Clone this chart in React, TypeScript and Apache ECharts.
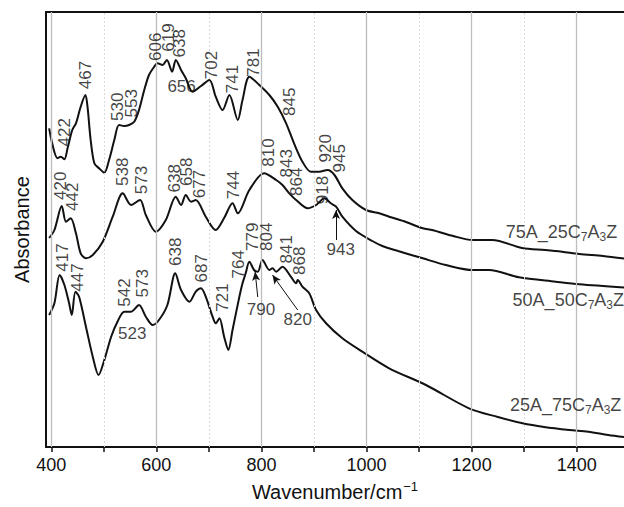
import React, { useEffect, useRef } from "react";
import * as echarts from "echarts";

// [wavenumber (cm^-1), absorbance (arb. units)]
const curve75A: [number, number][] = [
  [396, 318.7], [412, 288.7], [418, 290.3], [425, 287.7], [431, 298.7], [440, 317], [447, 323.7],
  [456, 340.3], [465, 352], [469, 340.3], [475, 307], [482, 283.7], [491, 278.7], [501, 274.3],
  [510, 287], [520, 307], [529, 322], [539, 321], [548, 322], [558, 325.3], [567, 337], [577, 357],
  [586, 372], [596, 380.3], [602, 383.7], [612, 382], [620, 387], [630, 375.3], [637, 387],
  [647, 377], [656, 368.7], [669, 355.3], [685, 361], [701, 367], [713, 350.3], [726, 337],
  [739, 352], [755, 327], [764, 347], [777, 370.3], [796, 362], [815, 352], [831, 340.3],
  [847, 323.7], [862, 303.7], [878, 285.3], [894, 275.3], [910, 275.3], [926, 277], [939, 272],
  [954, 258.7], [973, 247], [999, 237], [1024, 233.7], [1043, 230.3], [1075, 225], [1107, 218.7],
  [1125, 217], [1165, 211], [1202, 207], [1239, 207], [1296, 199], [1340, 197], [1372, 195.3],
  [1405, 193], [1450, 191], [1490, 188.5],
];

const curve50A: [number, number][] = [
  [396, 209], [406, 217], [420, 241], [428, 225.3], [437, 228.7], [447, 213.7], [456, 193.7],
  [466, 188.7], [479, 192], [498, 205.3], [517, 230.3], [536, 253.7], [552, 242], [569, 247],
  [580, 232], [599, 215.3], [618, 227], [637, 250.3], [647, 242], [656, 252], [666, 245.3],
  [675, 247], [694, 230.3], [713, 217], [729, 229], [745, 243.7], [755, 233.7], [777, 257],
  [805, 273.7], [828, 267], [840, 262], [853, 253.7], [866, 247], [888, 238.7], [904, 242],
  [920, 248.7], [932, 243.7], [942, 240.3], [954, 230.3], [980, 216], [1011, 206], [1030, 201],
  [1060, 196], [1107, 188.7], [1151, 182], [1202, 177], [1233, 177], [1290, 169.7], [1360, 165.3],
  [1405, 162.7], [1490, 159.5],
];

const curve25A: [number, number][] = [
  [396, 132], [406, 143.7], [416, 172], [425, 162], [434, 143.7], [439, 132], [446, 155.3],
  [453, 150.3], [466, 120.3], [479, 90.3], [490, 72], [501, 87], [514, 110.3], [526, 125.3],
  [539, 135.3], [552, 135.3], [567, 142], [580, 130.3], [593, 122], [605, 127], [621, 142],
  [636, 173.7], [647, 157], [663, 145.3], [675, 155.3], [685, 158.7], [694, 150.3], [707, 130.3],
  [713, 123.7], [720, 128.7], [729, 110.3], [737, 97], [745, 117], [758, 150.3], [764, 163.7],
  [770, 173.7], [777, 185.3], [786, 177], [793, 175.3], [802, 187], [815, 177], [821, 178.7],
  [828, 175.3], [840, 180.3], [856, 170.3], [866, 163.7], [869, 167], [878, 160.3], [891, 153.7],
  [904, 137], [923, 123.7], [954, 108.7], [992, 95.3], [1043, 78.7], [1113, 62], [1195, 38.7],
  [1250, 30], [1297, 23.7], [1338, 20], [1386, 17], [1422, 15.3], [1460, 12], [1490, 10],
];

// peak labels: [text, wavenumber, absorbance, horizontal?]
const peaks75A: [string, number, number, boolean][] = [
  ["422", 426, 314.7, false], ["467", 465, 372, false], ["530", 526, 340.3, false],
  ["553", 552, 343.7, false], ["606", 598, 400.3, false], ["619", 624, 409.5, false],
  ["638", 645, 403.7, false], ["656", 648, 360.3, true], ["702", 705, 382, false],
  ["741", 745, 368, false], ["781", 784, 384.5, false], ["845", 853, 345.3, false],
  ["920", 921, 298.7, false], ["945", 949, 288.7, false],
];
const peaks50A: [string, number, number, boolean][] = [
  ["420", 417, 261.2, false], ["442", 440, 250.3, false], ["538", 535, 275.3, false],
  ["573", 571, 267, false], ["638", 634, 268.7, false], ["658", 657, 275.3, false],
  ["677", 682, 263, false], ["744", 746, 262, false], ["810", 813, 294.5, false],
  ["843", 848, 283.7, false], ["864", 866, 265.3, false], ["918", 917, 257, false],
  ["943", 951, 197.8, true],
];
const peaks25A: [string, number, number, boolean][] = [
  ["417", 422, 189.5, false], ["447", 450, 169.5, false], ["542", 540, 154.5, false],
  ["573", 574, 163.7, false], ["523", 554, 113.7, true], ["638", 637, 195.3, false],
  ["687", 685, 178.7, false], ["721", 726, 149.5, false], ["764", 756, 182.8, false],
  ["779", 783, 210.3, false], ["804", 810, 210.3, false], ["841", 847, 197.8, false],
  ["868", 873, 186.2, false], ["790", 799, 137.8, true], ["820", 869, 127.8, true],
];

// arrows: [from wavenumber, from abs, to wavenumber, to abs]
const arrows: [number, number, number, number][] = [
  [942, 207, 942, 237],
  [793, 150, 788, 175.3],
  [869, 137, 821, 172],
];

// series names: [name parts, wavenumber (right end), absorbance]
const seriesLabels: [string[], number, number][] = [
  [["75A_25C", "7", "A", "3", "Z"], 1477, 215],
  [["50A_50C", "7", "A", "3", "Z"], 1490, 147],
  [["25A_75C", "7", "A", "3", "Z"], 1485, 42],
];

const tickValues = [400, 500, 600, 700, 800, 900, 1000, 1100, 1200, 1300, 1400];
const labelValues = [400, 600, 800, 1000, 1200, 1400];

const FONT = "'Liberation Sans', Arial, Helvetica, sans-serif";

export default function App() {
  const ref = useRef<HTMLDivElement>(null);
  useEffect(() => {
    if (!ref.current) return;
    const chart = echarts.init(ref.current, null, { renderer: "svg" });

    const peakSeries = (peaks: [string, number, number, boolean][]) => ({
      type: "scatter",
      symbolSize: 0,
      z: 5,
      silent: true,
      data: peaks.map(([t, w, a, h]) => ({
        value: [w, a],
        name: t,
        label: { rotate: h ? 0 : 90 },
      })),
      label: {
        show: true,
        position: "inside",
        formatter: (p: any) => p.name,
        fontSize: 17,
        color: "#111",
        fontFamily: FONT,
      },
    });

    const lineSeries = (d: [number, number][]) => ({
      type: "line",
      data: d,
      showSymbol: false,
      smooth: 0.3,
      z: 3,
      lineStyle: { color: "#111", width: 2 },
      itemStyle: { color: "#111" },
    });

    const option: any = {
      animation: false,
      grid: { left: 46, right: 0, top: 12, bottom: 60 },
      xAxis: [
        {
          type: "value",
          min: 390,
          max: 1490,
          axisLine: { show: true, lineStyle: { color: "#111", width: 2 } },
          axisTick: {
            show: true,
            customValues: tickValues,
            length: 5,
            lineStyle: { color: "#111", width: 1.5 },
          },
          axisLabel: {
            customValues: labelValues,
            formatter: (v: number) => String(v),
            fontSize: 18,
            color: "#111",
            fontFamily: FONT,
            margin: 9,
          },
          splitLine: { show: false },
          name: "{a|Wavenumber/cm}{s|−1}",
          nameLocation: "middle",
          nameGap: 33,
          nameTextStyle: {
            fontFamily: FONT,
            color: "#111",
            rich: {
              a: { fontSize: 20, fontFamily: FONT, color: "#111" },
              s: { fontSize: 13, fontFamily: FONT, color: "#111", padding: [0, 0, 11, 1] },
            },
          },
        },
        {
          type: "value",
          position: "top",
          min: 390,
          max: 1490,
          axisLine: { show: true, lineStyle: { color: "#111", width: 2 } },
          axisTick: { show: false },
          axisLabel: { show: false },
          splitLine: { show: false },
        },
      ],
      yAxis: {
        type: "value",
        min: 0,
        max: 435,
        axisLine: { show: true, lineStyle: { color: "#111", width: 2 } },
        axisTick: { show: false },
        axisLabel: { show: false },
        splitLine: { show: false },
        name: "Absorbance",
        nameLocation: "middle",
        nameGap: 14,
        nameTextStyle: { fontSize: 20, fontFamily: FONT, color: "#111" },
      },
      series: [
        {
          type: "scatter",
          symbolSize: 0,
          silent: true,
          z: 1,
          data: tickValues.map((v) => [v, 0]),
          markLine: {
            silent: true,
            symbol: ["none", "none"],
            label: { show: false },
            data: tickValues.map((v) => ({
              xAxis: v,
              lineStyle:
                v % 200 === 0
                  ? { color: "#bdbdbd", width: 1.3, type: "solid" }
                  : { color: "#d9d9d9", width: 1, type: [2, 2] },
            })),
          },
        },
        lineSeries(curve75A),
        lineSeries(curve50A),
        lineSeries(curve25A),
        peakSeries(peaks75A),
        peakSeries(peaks50A),
        peakSeries(peaks25A),
        {
          type: "scatter",
          symbolSize: 0,
          silent: true,
          z: 5,
          data: [],
          markLine: {
            silent: true,
            symbol: ["none", "arrow"],
            symbolSize: [6, 9],
            label: { show: false },
            lineStyle: { color: "#111", width: 1, type: "solid" },
            data: arrows.map(([w1, a1, w2, a2]) => [{ coord: [w1, a1] }, { coord: [w2, a2] }]),
          },
        },
        {
          type: "scatter",
          symbolSize: 0,
          silent: true,
          z: 5,
          data: seriesLabels.map(([parts, w, a]) => ({ value: [w, a], name: parts.join("|") })),
          label: {
            show: true,
            position: "left",
            distance: 0,
            formatter: (p: any) => {
              const s = p.name.split("|");
              return `{a|${s[0]}}{s|${s[1]}}{a|${s[2]}}{s|${s[3]}}{a|${s[4]}}`;
            },
            rich: {
              a: { fontSize: 18, fontFamily: FONT, color: "#111" },
              s: { fontSize: 12, fontFamily: FONT, color: "#111", padding: [10, 0, 0, 0] },
            },
          },
        },
      ],
    };
    chart.setOption(option);
    return () => chart.dispose();
  }, []);
  return (
    <div
      ref={ref}
      style={{ position: "fixed", left: 0, top: 0, width: 624, height: 507, background: "#fff" }}
    />
  );
}
